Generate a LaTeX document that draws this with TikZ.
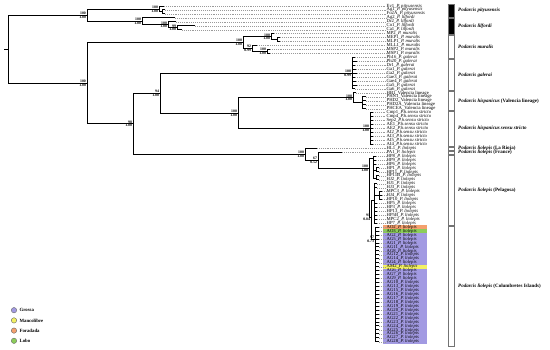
\documentclass[tikz,border=0pt]{standalone}
\usepackage{fontspec}
\setmainfont{Liberation Serif}
\usetikzlibrary{positioning}
\definecolor{grossa}{HTML}{A29AE2}
\definecolor{manco}{HTML}{F2F064}
\definecolor{fora}{HTML}{F4A06E}
\definecolor{lobo}{HTML}{8CCD5A}
\definecolor{guide}{HTML}{9A9A9A}

% one tip: row, end of branch, parent, label
\newcommand{\addleaf}[4]{%
 \coordinate (e#1) at (#2,{6+3.95*#1});
 \draw[br] (#3) |- (e#1);
 \node[tiplab] (t#1) at (386,{6+3.95*#1}) {#4};
 \draw[gl] (e#1) -- (t#1.west);}

\begin{document}
\begin{tikzpicture}[x=1pt,y=-1pt,br/.style={line width=0.9pt,line cap=rect},gl/.style={guide,line width=0.35pt,dash pattern=on 1pt off 0.9pt},tiplab/.style={anchor=west,inner sep=0.5pt,font=\fontsize{4.7}{5}\selectfont},bs/.style={anchor=south east,inner sep=0.3pt,xshift=-0.6pt,font=\fontsize{3.8}{4}\selectfont\bfseries},pp/.style={anchor=north east,inner sep=0.3pt,xshift=-0.6pt,font=\fontsize{3.8}{4}\selectfont\bfseries},bar/.style={draw=black!55,line width=0.4pt},grp/.style={anchor=west,inner sep=0pt,font=\fontsize{5}{6}\selectfont\bfseries},swatch/.style={circle,draw=black!60,line width=0.4pt,minimum size=5.4pt,inner sep=0pt},leg/.style={inner sep=0pt,font=\fontsize{4.8}{5}\selectfont\bfseries}]
 \useasboundingbox (0,0) rectangle (550,350);
 % inner nodes of the tree
 \coordinate (stem) at (4,49.1);
 \coordinate (root) at (8,49.1);
 \coordinate (A) at (87,15.2);
 \coordinate (P) at (159,9);
 \coordinate (P2) at (162,11.9);
 \coordinate (B) at (142,21.3);
 \coordinate (C) at (168,24.75);
 \coordinate (D) at (177,27.7);
 \coordinate (E) at (87,83);
 \coordinate (M) at (243,42.5);
 \coordinate (M1) at (271,36.6);
 \coordinate (M1b) at (277,39.6);
 \coordinate (M2) at (252,48.5);
 \coordinate (M3) at (267,51.4);
 \coordinate (F) at (133,123.6);
 \coordinate (G) at (160,93.15);
 \coordinate (Gal) at (352,73.15);
 \coordinate (K) at (238,113.15);
 \coordinate (V) at (353,97.85);
 \coordinate (V2) at (362,102.8);
 \coordinate (S) at (370,128.45);
 \coordinate (H) at (305,154);
 \coordinate (I) at (318,160);
 \coordinate (J) at (369,168);
 \coordinate (J1) at (373,158);
 \coordinate (J1a) at (376,170);
 \coordinate (J1b) at (376,178);
 \coordinate (J2) at (371,217);
 \coordinate (J3) at (374,200);
 \coordinate (J3a) at (379,195.6);
 \coordinate (Cb) at (375,239);
 \draw[br] (stem) -- (root);
 \foreach \pa/\ch in {root/A,root/E,A/P,A/B,P/P2,B/C,C/D,E/M,E/F,M/M1,M/M2,M1/M1b,M2/M3,F/G,F/H,G/Gal,G/K,K/V,K/S,V/V2,H/I,I/J,J/J1,J/J2,J1/J1a,J1/J1b,J2/J3,J3/J3a,J2/Cb}
  \draw[br] (\pa) |- (\ch);
 % island colours behind the labels
 \fill[fora] (383,{6+3.95*55.5}) rectangle (427,{6+3.95*56.5});
 \fill[lobo] (383,{6+3.95*56.5}) rectangle (427,{6+3.95*57.5});
 \fill[grossa] (383,{6+3.95*57.5}) rectangle (427,{6+3.95*85.6});
 \fill[manco] (383,{6+3.95*65.5}) rectangle (427,{6+3.95*66.5});
 % tips
 \addleaf{0}{164}{P}{Ev1\_\textit{P. pityusensis}}
 \addleaf{1}{165}{P2}{Ag1\_\textit{P. pityusensis}}
 \addleaf{2}{165}{P2}{Fo2A\_\textit{P. pityusensis}}
 \addleaf{3}{175}{B}{Ag2\_\textit{P. lilfordi}}
 \addleaf{4}{176}{C}{Dr2\_\textit{P. lilfordi}}
 \addleaf{5}{195}{D}{Co1\_\textit{P. lilfordi}}
 \addleaf{6}{182}{D}{Ca1\_\textit{P. lilfordi}}
 \addleaf{7}{274}{M1}{MP2\_\textit{P. muralis}}
 \addleaf{8}{280}{M1b}{MEP1\_\textit{P. muralis}}
 \addleaf{9}{280}{M1b}{MLP1\_\textit{P. muralis}}
 \addleaf{10}{257}{M2}{MLL1\_\textit{P. muralis}}
 \addleaf{11}{270}{M3}{MSP2\_\textit{P. muralis}}
 \addleaf{12}{270}{M3}{MSP1\_\textit{P. muralis}}
 \foreach \rw/\xe/\nm in {13/355/Ph16,14/357/Ph20,15/355/Dr1,16/356/Ga1,17/357/Ga2,18/355/Gae3,19/356/Gae4,20/357/Ga5,21/355/Ga6}
  {\addleaf{\rw}{\xe}{Gal}{\nm\_\textit{P. galerai}}}
 \addleaf{22}{356}{V}{HB1\_Valencia lineage}
 \foreach \rw/\nm in {23/PHN1,24/PHD2,25/PHD2A,26/PHCEA}
  {\addleaf{\rw}{366}{V2}{\nm\_Valencia lineage}}
 \foreach \rw/\nm in {27/Cmp1,28/Cmp4,29/Sep2,30/AE1,31/AE2,32/AI2,33/AI3,34/AI5,35/AI4}
  {\addleaf{\rw}{373}{S}{\nm\_\textit{P.h.sensu stricto}}}
 \addleaf{36}{317}{H}{HL1\_\textit{P. liolepis}}
 \addleaf{37}{342}{I}{PA1\_\textit{P. liolepis}}
 \foreach \rw/\pa/\xe/\nm in {38/J1/376/HP8,39/J1/376/HP9,40/J1/376/HP6,41/J1a/379/HP1,42/J1a/379/HP11,43/J1b/379/HP11B,44/J1b/379/HJ2,45/J3/377/HJ1,46/J3/377/HJ3,47/J3a/382/MPC3,48/J3a/382/HJ4,49/J3a/382/HP10,50/J3/377/HP5,51/J3/377/HP3,52/J3/377/HP13,53/J3/377/HP5B,54/J3/377/MPC2,55/J3/377/HP7}
  {\addleaf{\rw}{\xe}{\pa}{\nm\_\textit{P. liolepis}}}
 \foreach \rw/\nm in {56/AO2,57/AO3,58/AG2,59/AG5,60/AG1,61/AG11,62/AG8,63/AG12,64/AG14,65/AG4,66/AM2,67/AG6,68/AG7,69/AG9,70/AG10,71/AG13,72/AG15,73/AG16,74/AG17,75/AG18,76/AG19,77/AG20,78/AG21,79/AG22,80/AG23,81/AG24,82/AG25,83/AG26,84/AG27,85/AG28}
  {\addleaf{\rw}{379}{Cb}{\nm\_\textit{P. liolepis}}}
 % support values
 \foreach \nd/\bsv/\ppv in {A/100/1.00,P/100/1.00,B/100/1.00,C/100/1.00,D/99/1.00,E/100/1.00,M/100/1.00,M1/100/1.00,M2/92/0.99,M3/100/1.00,F/98/1.00,G/94/1.00,Gal/100/0.99,K/100/1.00,V/100/1.00,S/100/1.00,H/100/1.00,I/67/0.52,J/100/1.00,J2/91/0.84,Cb/97/0.73}{
  \node[bs] (b\nd) at (\nd) {\bsv};
  \node[pp] (q\nd) at (\nd) {\ppv};}
 % species bars
 \foreach \tp/\bt/\fc/\lab [count=\k] in {4/17.5/black/{\textit{Podarcis pityusensis}},18.5/34/black/{\textit{Podarcis lilfordi}},35/58.5/white/{\textit{Podarcis muralis}},59.5/90.5/white/{\textit{Podarcis galerai}},91.5/110.5/white/{\textit{Podarcis hispanicus} (Valencia lineage)},111.5/146/white/{\textit{Podarcis hispanicus sensu stricto}},147/150.5/white/{\textit{Podarcis liolepis} (La Rioja)},151/154.5/white/{\textit{Podarcis liolepis} (France)},155.5/225/white/{\textit{Podarcis liolepis} (Pelagosa)},226/346/white/{\textit{Podarcis liolepis} (Columbretes Islands)}}{
  \draw[bar,fill=\fc] (448,\tp) rectangle (454,\bt);
  \node[grp] (g\k) at (458,{(\tp+\bt)/2}) {\lab};}
 % legend
 \foreach \cl/\lab [count=\k] in {grossa/Grossa,manco/Mancolibre,fora/Foradada,lobo/Lobo}{
  \node[swatch,fill=\cl] (c\k) at (14,{300+10.2*\k}) {};
  \node[leg,right=2.5pt of c\k] (l\k) {\lab};}
\end{tikzpicture}
\end{document}
